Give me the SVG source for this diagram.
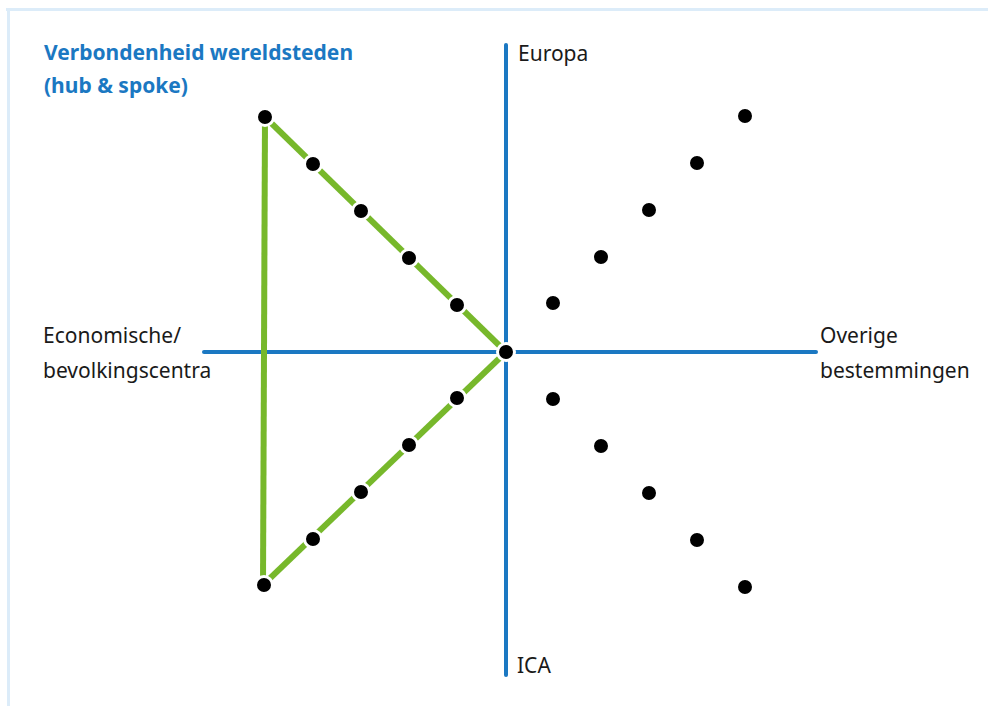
<svg xmlns="http://www.w3.org/2000/svg" width="988" height="706" viewBox="0 0 988 706">
<defs>
<style>
.frame{stroke:#dcecf9;stroke-width:3;fill:none}
.axis{stroke:#1b78c2;stroke-width:4;stroke-linecap:round;fill:none}
.spoke{stroke:#77b82b;stroke-width:6;fill:none}
.dot{fill:#000;stroke:#fff;stroke-width:3}
.lbl{font-family:"Noto Sans","Open Sans",sans-serif;font-size:21px;fill:#1a1a1a}
.title{font-family:"Noto Sans","Open Sans",sans-serif;font-size:21px;font-weight:bold;fill:#1b78c2}
</style>
</defs>
<rect width="988" height="706" fill="#fff"/>
<path class="frame" d="M6 9.5H988M8.5 9V706"/>
<text class="title" x="44" y="60">Verbondenheid wereldsteden</text>
<text class="title" x="44" y="93">(hub &amp; spoke)</text>
<g id="connectors">
<line class="axis" x1="204" y1="352" x2="816" y2="352"/>
<line class="axis" x1="506" y1="45" x2="506" y2="675"/>
<line class="spoke" x1="265" y1="117" x2="263" y2="585"/>
<line class="spoke" x1="265" y1="117" x2="506" y2="352"/>
<line class="spoke" x1="263" y1="585" x2="506" y2="352"/>
</g>
<g id="label-europa"><text class="lbl" x="518" y="61">Europa</text></g>
<g id="label-ica"><text class="lbl" x="517" y="673">ICA</text></g>
<g id="label-economische"><text class="lbl" x="43" y="343">Economische/</text><text class="lbl" x="43" y="378">bevolkingscentra</text></g>
<g id="label-overige"><text class="lbl" x="820" y="343">Overige</text><text class="lbl" x="820" y="378">bestemmingen</text></g>
<g id="nodes">
<g id="hub"><circle class="dot" cx="506" cy="352" r="8.5"/></g>
<g id="top-left"><circle class="dot" cx="265" cy="117" r="8.5"/></g>
<g id="bottom-left"><circle class="dot" cx="264" cy="585" r="8.5"/></g>
<g id="upper-spoke-dots">
<circle class="dot" cx="313" cy="164" r="8.5"/>
<circle class="dot" cx="361" cy="211" r="8.5"/>
<circle class="dot" cx="409" cy="258" r="8.5"/>
<circle class="dot" cx="457" cy="305" r="8.5"/>
</g>
<g id="lower-spoke-dots">
<circle class="dot" cx="457" cy="398" r="8.5"/>
<circle class="dot" cx="409" cy="445" r="8.5"/>
<circle class="dot" cx="361" cy="492" r="8.5"/>
<circle class="dot" cx="313" cy="539" r="8.5"/>
</g>
<g id="right-upper-dots">
<circle class="dot" cx="553" cy="303" r="8.5"/>
<circle class="dot" cx="601" cy="257" r="8.5"/>
<circle class="dot" cx="649" cy="210" r="8.5"/>
<circle class="dot" cx="697" cy="163" r="8.5"/>
<circle class="dot" cx="745" cy="116" r="8.5"/>
</g>
<g id="right-lower-dots">
<circle class="dot" cx="553" cy="399" r="8.5"/>
<circle class="dot" cx="601" cy="446" r="8.5"/>
<circle class="dot" cx="649" cy="493" r="8.5"/>
<circle class="dot" cx="697" cy="540" r="8.5"/>
<circle class="dot" cx="745" cy="587" r="8.5"/>
</g>
</g>
</svg>
